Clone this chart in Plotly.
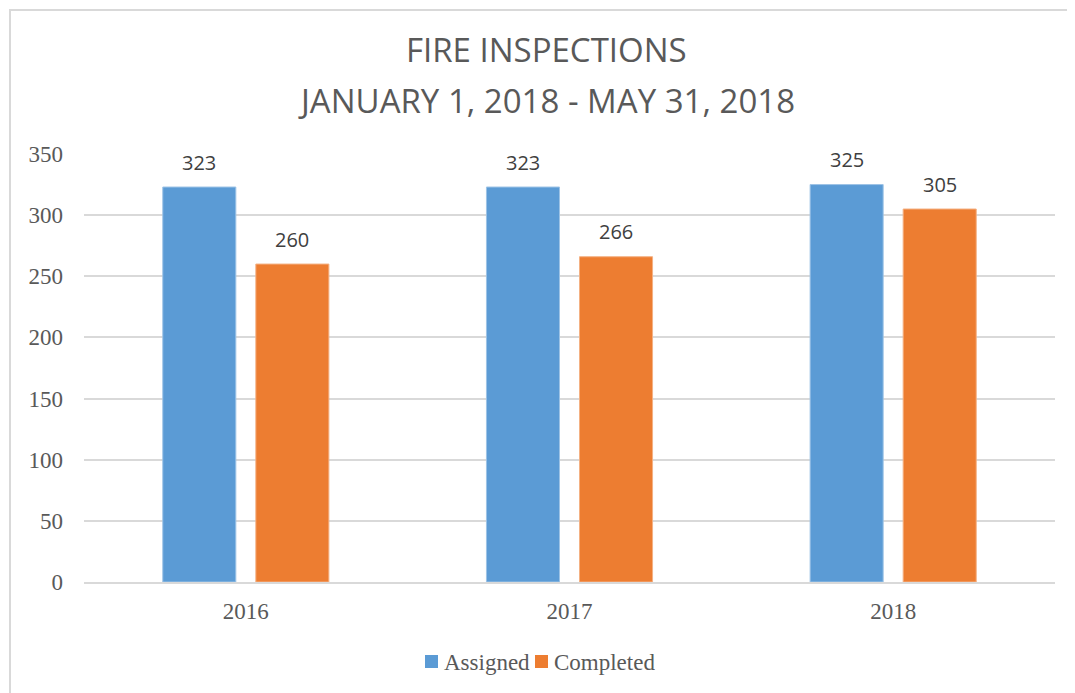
import plotly.graph_objects as go

categories = ["2016", "2017", "2018"]
assigned = [323, 323, 325]
completed = [260, 266, 305]
series_names = ["Assigned", "Completed"]
series_colors = ["#5B9BD5", "#ED7D31"]
series_edges = ["#9DC3E6", "#F4B183"]
y_ticks = [0, 50, 100, 150, 200, 250, 300, 350]

OFF = 8  # page body margin
W, H = 1067, 685
L, T = 76, 146
pw, ph = 971, 428
R, B = W - L - pw, H - T - ph


def px(page_x):
    return (page_x - OFF - L) / pw


def py(page_y):
    return (OFF + T + ph - page_y) / ph


BARGAP, GROUPGAP = 0.425, 0.215
slot_px = pw / len(categories) * (1 - BARGAP) / 2

fig = go.Figure()
for name, vals, col, edge in zip(series_names, [assigned, completed], series_colors, series_edges):
    fig.add_trace(go.Bar(
        name=name, x=categories, y=vals,
        marker=dict(color=col, line=dict(color=edge, width=1)),
        showlegend=False,
    ))

# data labels (x given as category index)
for i, vals in enumerate([assigned, completed]):
    shift = (i - 0.5) * slot_px
    for j, v in enumerate(vals):
        fig.add_annotation(
            x=j, y=v, text=str(v), showarrow=False, xref="x", yref="y",
            xshift=shift, yshift=25, yanchor="middle",
            font=dict(family="Open Sans", size=20, color="#404040"),
        )

# title (two lines)
for txt, yy in [("FIRE INSPECTIONS", 50), ("JANUARY 1, 2018 - MAY 31, 2018", 100)]:
    fig.add_annotation(
        x=px(546), y=py(yy), xref="paper", yref="paper", text=txt,
        showarrow=False, xanchor="center", yanchor="middle",
        font=dict(family="Open Sans", size=33, color="#595959"),
    )

# custom legend
leg_sq = [425, 535]
for name, col, sx in zip(series_names, series_colors, leg_sq):
    fig.add_shape(
        type="rect", xref="paper", yref="paper",
        x0=px(sx), x1=px(sx + 13), y0=py(668), y1=py(655),
        line=dict(width=0), fillcolor=col,
    )
    fig.add_annotation(
        x=px(sx + 17), y=py(662), xref="paper", yref="paper", text=name,
        showarrow=False, xanchor="left", yanchor="middle",
        font=dict(family="Liberation Serif", size=23, color="#595959"),
    )

fig.update_layout(
    width=W, height=H,
    margin=dict(l=L, r=R, t=T, b=B),
    paper_bgcolor="white", plot_bgcolor="white",
    barmode="group", bargap=BARGAP, bargroupgap=GROUPGAP,
    showlegend=False,
    xaxis=dict(
        type="category", categoryorder="array", categoryarray=categories,
        range=[-0.5, len(categories) - 0.5],
        showgrid=False, showline=True, linecolor="#D9D9D9", linewidth=2,
        ticks="", ticklabelstandoff=7,
        tickfont=dict(family="Liberation Serif", size=23, color="#595959"),
    ),
    yaxis=dict(
        range=[0, 350], tickvals=y_ticks,
        showgrid=True, gridcolor="#D9D9D9", gridwidth=2,
        zeroline=False, showline=False, ticks="", ticklabelstandoff=20,
        tickfont=dict(family="Liberation Serif", size=23, color="#595959"),
    ),
)

# outer chart border
fig.add_shape(
    type="rect", xref="paper", yref="paper",
    x0=px(10), x1=px(1100), y0=py(720), y1=py(10),
    line=dict(color="#D9D9D9", width=2), fillcolor="rgba(0,0,0,0)",
    layer="below",
)

fig.write_html("out.html")
